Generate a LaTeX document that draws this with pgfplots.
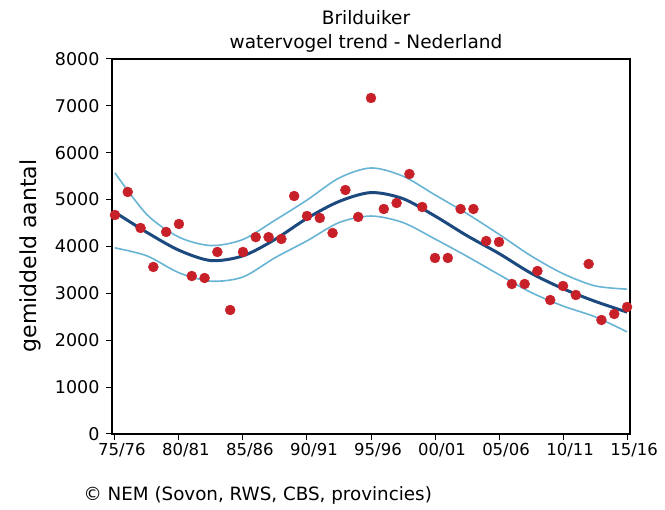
\documentclass[border=0pt]{standalone}
\usepackage{fontspec}
\setmainfont{DejaVu Sans}
\usepackage{pgfplots}
\pgfplotsset{compat=1.18}
\definecolor{dotred}{RGB}{200,32,40}
\definecolor{trendblue}{RGB}{28,74,126}
\definecolor{bandblue}{RGB}{104,180,212}
\begin{document}
\begin{tikzpicture}[x=1pt,y=1pt]
\useasboundingbox (0pt,0pt) rectangle (665pt,510pt);
\clip (0pt,0pt) rectangle (665pt,510pt);
\node[font=\fontsize{18.5pt}{22pt}\selectfont] at (366pt,492pt) {Brilduiker};
\node[font=\fontsize{18.5pt}{22pt}\selectfont] at (366pt,467pt) {watervogel trend - Nederland};
\node[font=\fontsize{22pt}{26pt}\selectfont, rotate=90] at (30pt,254pt) {gemiddeld aantal};
\node[font=\fontsize{18.3pt}{22pt}\selectfont, anchor=west] at (80pt,15pt) {© NEM (Sovon, RWS, CBS, provincies)};
\begin{axis}[
  at={(112pt,76pt)}, anchor=south west,
  scale only axis, width=518pt, height=375pt,
  xmin=1974.77, xmax=2015.23, ymin=0, ymax=8000,
  xtick={1975,1980,1985,1990,1995,2000,2005,2010,2015},
  xticklabels={75/76,80/81,85/86,90/91,95/96,00/01,05/06,10/11,15/16},
  ytick={0,1000,2000,3000,4000,5000,6000,7000,8000},
  tick align=outside, tick pos=left,
  major tick length=6pt,
  tick style={black, line width=1pt},
  axis line style={black, line width=1.2pt},
  /pgf/number format/assume math mode=true,
  scaled y ticks=false,
  yticklabel style={font=\fontsize{17.5pt}{20pt}\selectfont, xshift=-3pt, /pgf/number format/.cd, fixed, 1000 sep={}},
  xticklabel style={font=\fontsize{16.5pt}{19pt}\selectfont, xshift=7pt},
  clip=false,
]
\addplot[bandblue, line width=1.6pt, smooth] coordinates {
(1975,5570) (1977.5,4680) (1980,4200) (1982.5,4020) (1985,4150) (1987.5,4560)
(1990,4990) (1992.5,5460) (1995,5675) (1997.5,5500) (2000,5100) (2002.5,4700)
(2005,4260) (2007.5,3800) (2010,3420) (2012.5,3160) (2015,3090)};
\addplot[bandblue, line width=1.6pt, smooth] coordinates {
(1975,3970) (1977.5,3800) (1980,3440) (1982.5,3260) (1985,3350) (1987.5,3760)
(1990,4120) (1992.5,4510) (1995,4650) (1997.5,4510) (2000,4160) (2002.5,3790)
(2005,3400) (2007.5,3020) (2010,2730) (2012.5,2500) (2015,2180)};
\addplot[trendblue, line width=3pt, smooth] coordinates {
(1975,4730) (1977.5,4300) (1980,3920) (1982.5,3700) (1985,3800) (1987.5,4150)
(1990,4600) (1992.5,4960) (1995,5150) (1997.5,5020) (2000,4650) (2002.5,4230)
(2005,3850) (2007.5,3430) (2010,3100) (2012.5,2830) (2015,2600)};
\addplot[only marks, mark=*, mark size=5pt, color=dotred] coordinates {
(1975,4672) (1976,5163) (1977,4395) (1978,3563) (1979,4310) (1980,4480)
(1981,3370) (1982,3328) (1983,3883) (1984,2645) (1985,3883) (1986,4200)
(1987,4200) (1988,4160) (1989,5077) (1990,4650) (1991,4608) (1992,4288)
(1993,5205) (1994,4630) (1995,7168) (1996,4800) (1997,4928) (1998,5547)
(1999,4843) (2000,3755) (2001,3755) (2002,4800) (2003,4800) (2004,4117)
(2005,4096) (2006,3200) (2007,3200) (2008,3477) (2009,2858) (2010,3157)
(2011,2965) (2012,3627) (2013,2432) (2014,2560) (2015,2709)};
\end{axis}
\end{tikzpicture}
\end{document}
